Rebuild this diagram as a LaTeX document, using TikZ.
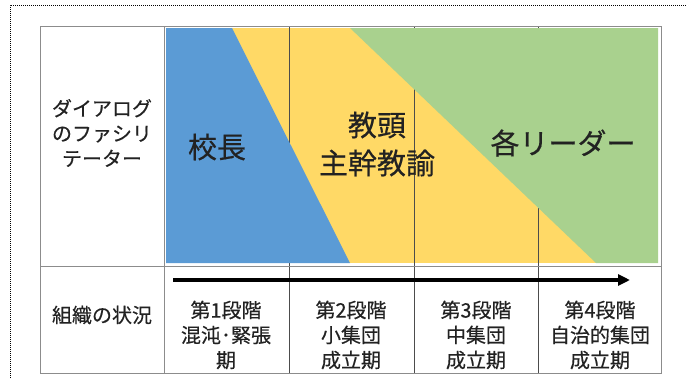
\documentclass[tikz,border=0pt]{standalone}
\usepackage{fontspec}
\newfontfamily\jp[FakeBold=0.4]{Noto Sans CJK JP}
\usetikzlibrary{arrows.meta}
\definecolor{cblue}{HTML}{5B9BD5}
\definecolor{cyellow}{HTML}{FFD966}
\definecolor{cgreen}{HTML}{A9D18E}
\definecolor{gridc}{HTML}{8C8C8C}
\definecolor{txt}{HTML}{222222}
\begin{document}
\begin{tikzpicture}[x=1pt,y=-1pt,
  small/.style={font=\jp\fontsize{20}{25}\selectfont, align=center, text=txt, inner sep=0pt},
  big/.style={font=\jp\fontsize{29}{38}\selectfont, align=center, text=txt, inner sep=0pt},
  gridline/.style={draw=gridc, line width=0.8pt},
  innerline/.style={draw=black!70, line width=0.6pt}]
\useasboundingbox (0,0) rectangle (686,378);
% dotted frame
\draw[dash pattern=on 1pt off 1pt, line width=1pt] (10,378) -- (10,5) -- (686,5);
% colour areas
\fill[cyellow] (166,28) rectangle (658,263);
\foreach \x in {289,414,538} \draw[innerline] (\x,26) -- (\x,373);
\fill[cblue] (166,28) -- (232,28) -- (350,263) -- (166,263) -- cycle;
\fill[cgreen] (350,28) -- (658,28) -- (658,263) -- (596,263) -- cycle;
% table
\draw[gridline] (40,26) rectangle (661,373);
\draw[gridline] (40,266) -- (661,266);
\draw[gridline] (164,26) -- (164,373);
% arrow
\coordinate (as) at (173,280);
\coordinate (ae) at (630,280);
\draw[line width=3.8pt, -{Triangle[length=12pt,width=11pt]}] (as) -- (ae);
% texts
\node[small] (fac) at (102,133) {ダイアログ\\のファシリ\\テーター};
\node[big] (kocho) at (217,147) {校長};
\node[big] (kyoto) at (377,144) {教頭\\主幹教諭};
\node[big] (leader) at (563,143) {各リーダー};
\node[small] (org) at (102,315) {組織の状況};
\node[small] (s1) at (226,335) {第1段階\\混沌･緊張\\期};
\node[small] (s2) at (351,335) {第2段階\\小集団\\成立期};
\node[small] (s3) at (476,335) {第3段階\\中集団\\成立期};
\node[small] (s4) at (600,335) {第4段階\\自治的集団\\成立期};
\end{tikzpicture}
\end{document}
